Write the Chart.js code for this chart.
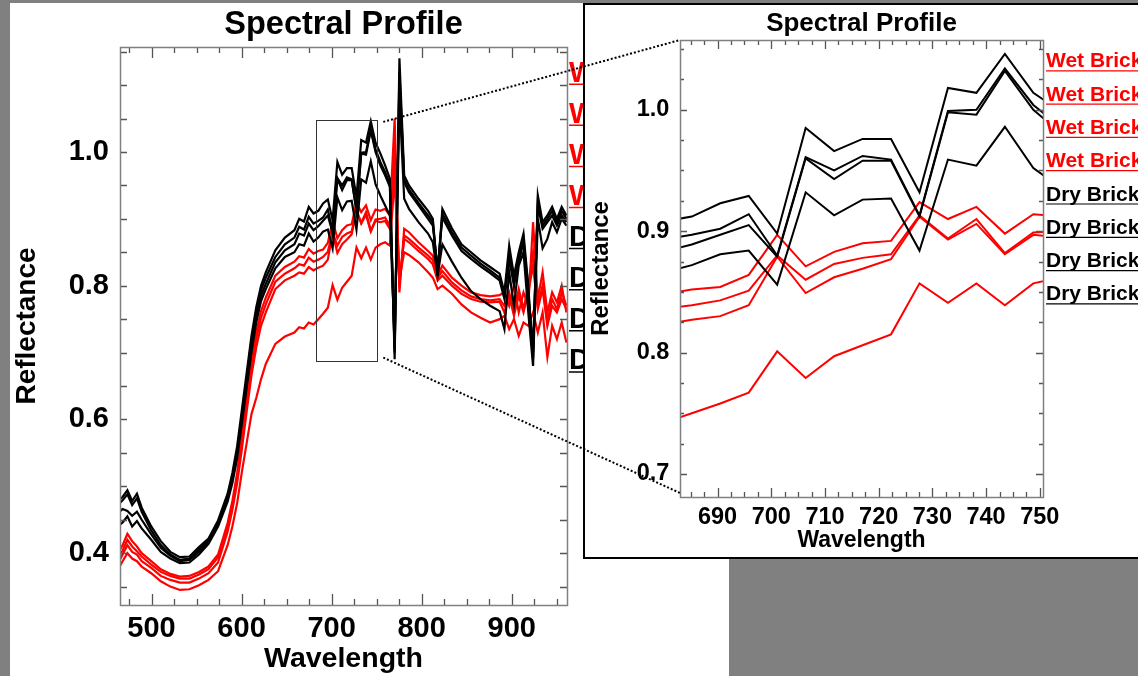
<!DOCTYPE html>
<html><head><meta charset="utf-8">
<script src="https://cdn.jsdelivr.net/npm/chart.js@4.4.1/dist/chart.umd.min.js"></script>
<style>
html,body{margin:0;padding:0;background:#808080;width:1138px;height:676px;overflow:hidden;position:relative}
#mainBg{position:absolute;left:10px;top:3px;width:719px;height:673px;background:#fff}
#mainCv{position:absolute;left:0;top:0}
#insetBox{position:absolute;left:583px;top:3px;width:560px;height:556px;box-sizing:border-box;border:2px solid #000;border-right:none;background:#fff;overflow:hidden}
#insetCv{position:absolute;left:0;top:0}
#overlay{position:absolute;left:0;top:0;pointer-events:none}
</style></head>
<body>
<div id="mainBg"></div>
<canvas id="mainCv" width="729" height="676"></canvas>
<div id="insetBox"><canvas id="insetCv" width="553" height="552"></canvas></div>
<canvas id="overlay" width="1138" height="676"></canvas>
<script>
const FONT = '"Liberation Sans", Arial, Helvetica, sans-serif';

// ---- data ----
const wavelengths = [462.6,467.9,473.2,478.5,483.8,489.1,499.7,510.3,520.9,531.5,
 542.1,552.7,563.3,573.9,584.5,589.8,595.1,600.4,605.7,611.0,
 616.3,621.6,626.9,637.5,648.1,658.7,664.0,669.3,674.6,679.9,
 685.2,690.5,695.8,701.1,706.4,711.7,717.0,722.3,727.6,732.9,
 738.2,743.5,748.8,754.1,759.4,764.7,770.0,775.3,780.6,785.9,
 796.5,807.1,812.4,817.7,823.0,833.6,844.2,854.8,865.4,876.0,
 886.6,891.9,897.2,902.5,907.8,913.1,918.4,923.7,929.0,934.3,
 939.6,944.9,950.2,955.5,960.8];

const wet1 = [0.400,0.412,0.429,0.418,0.410,0.400,0.388,0.376,0.369,0.365,
 0.366,0.372,0.380,0.398,0.445,0.478,0.520,0.575,0.632,0.688,
 0.730,0.762,0.782,0.815,0.828,0.836,0.844,0.842,0.855,0.848,
 0.852,0.854,0.864,0.897,0.871,0.883,0.890,0.892,0.924,0.910,
 0.920,0.898,0.914,0.912,0.915,0.905,1.050,0.790,0.885,0.880,
 0.865,0.852,0.845,0.815,0.830,0.812,0.800,0.790,0.786,0.784,
 0.786,0.790,0.770,0.800,0.760,0.790,0.770,0.895,0.780,0.820,
 0.760,0.790,0.775,0.800,0.760];
const wet2 = [0.392,0.404,0.420,0.410,0.403,0.395,0.383,0.372,0.366,0.362,
 0.362,0.368,0.376,0.394,0.440,0.472,0.513,0.566,0.622,0.677,
 0.720,0.752,0.772,0.806,0.818,0.826,0.832,0.830,0.842,0.836,
 0.839,0.843,0.851,0.880,0.860,0.873,0.878,0.881,0.913,0.894,
 0.910,0.882,0.899,0.900,0.902,0.890,1.010,0.800,0.875,0.870,
 0.857,0.845,0.838,0.812,0.822,0.805,0.793,0.784,0.780,0.778,
 0.780,0.770,0.790,0.760,0.795,0.765,0.800,0.850,0.770,0.800,
 0.745,0.780,0.765,0.790,0.770];
const wet3 = [0.384,0.398,0.412,0.402,0.398,0.388,0.378,0.366,0.360,0.356,
 0.356,0.362,0.370,0.386,0.432,0.465,0.505,0.556,0.612,0.666,
 0.708,0.740,0.760,0.795,0.808,0.815,0.820,0.818,0.828,0.823,
 0.827,0.830,0.839,0.879,0.849,0.862,0.869,0.877,0.912,0.893,
 0.906,0.881,0.897,0.895,0.897,0.885,0.990,0.805,0.870,0.865,
 0.852,0.840,0.832,0.808,0.815,0.800,0.788,0.780,0.776,0.775,
 0.776,0.760,0.785,0.755,0.785,0.760,0.790,0.830,0.765,0.795,
 0.740,0.770,0.760,0.780,0.765];
const wet4 = [0.375,0.388,0.400,0.392,0.388,0.380,0.370,0.358,0.350,0.345,
 0.346,0.352,0.360,0.373,0.412,0.440,0.475,0.522,0.565,0.608,
 0.632,0.660,0.683,0.713,0.724,0.730,0.738,0.736,0.745,0.742,
 0.750,0.758,0.767,0.801,0.779,0.797,0.806,0.815,0.857,0.841,
 0.857,0.839,0.857,0.862,0.865,0.860,0.960,0.810,0.850,0.846,
 0.835,0.820,0.812,0.795,0.800,0.788,0.772,0.760,0.752,0.745,
 0.750,0.755,0.735,0.750,0.725,0.745,0.740,0.760,0.730,0.760,
 0.693,0.740,0.720,0.745,0.715];
const dry1 = [0.478,0.484,0.494,0.478,0.489,0.468,0.440,0.418,0.402,0.394,
 0.395,0.409,0.422,0.449,0.489,0.520,0.560,0.615,0.670,0.725,
 0.768,0.800,0.820,0.853,0.872,0.883,0.900,0.896,0.918,0.908,
 0.912,0.923,0.929,0.898,0.985,0.966,0.976,0.976,0.932,1.018,
 1.014,1.046,1.014,0.998,0.980,0.960,0.690,1.140,0.965,0.950,
 0.930,0.912,0.900,0.815,0.915,0.886,0.862,0.850,0.838,0.828,
 0.818,0.790,0.860,0.815,0.850,0.878,0.800,0.690,0.935,0.895,
 0.905,0.918,0.900,0.918,0.905];
const dry2 = [0.472,0.479,0.488,0.472,0.482,0.462,0.434,0.412,0.398,0.390,
 0.392,0.405,0.420,0.446,0.485,0.515,0.553,0.607,0.662,0.717,
 0.760,0.793,0.812,0.843,0.862,0.872,0.888,0.884,0.903,0.893,
 0.897,0.902,0.914,0.880,0.961,0.950,0.962,0.959,0.913,0.999,
 1.000,1.034,1.004,0.985,0.970,0.952,0.700,1.120,0.958,0.944,
 0.924,0.905,0.895,0.820,0.908,0.880,0.857,0.845,0.833,0.823,
 0.812,0.785,0.845,0.805,0.840,0.870,0.790,0.700,0.925,0.890,
 0.900,0.912,0.895,0.912,0.900];
const dry3 = [0.460,0.466,0.463,0.456,0.462,0.450,0.428,0.408,0.396,0.388,
 0.390,0.402,0.417,0.443,0.481,0.510,0.548,0.600,0.655,0.708,
 0.752,0.785,0.803,0.835,0.853,0.862,0.878,0.875,0.893,0.883,
 0.889,0.897,0.905,0.879,0.960,0.943,0.958,0.958,0.912,0.998,
 0.996,1.032,1.000,0.980,0.965,0.948,0.705,1.110,0.955,0.940,
 0.920,0.900,0.890,0.825,0.902,0.875,0.852,0.840,0.829,0.819,
 0.808,0.780,0.840,0.800,0.835,0.865,0.785,0.705,0.920,0.885,
 0.895,0.905,0.890,0.905,0.895];
const dry4 = [0.440,0.446,0.455,0.440,0.448,0.437,0.420,0.402,0.392,0.385,
 0.386,0.398,0.414,0.440,0.477,0.505,0.542,0.594,0.648,0.700,
 0.745,0.777,0.795,0.826,0.843,0.850,0.862,0.860,0.878,0.866,
 0.872,0.881,0.884,0.856,0.932,0.913,0.926,0.927,0.884,0.959,
 0.954,0.986,0.952,0.935,0.920,0.905,0.720,1.080,0.930,0.915,
 0.895,0.878,0.865,0.815,0.862,0.836,0.812,0.792,0.780,0.770,
 0.762,0.735,0.820,0.770,0.830,0.850,0.760,0.680,0.900,0.856,
 0.870,0.895,0.880,0.900,0.890];

const seriesValues = [wet1, wet2, wet3, wet4, dry1, dry2, dry3, dry4];
const seriesLabels = ['Wet Brick','Wet Brick','Wet Brick','Wet Brick','Dry Brick','Dry Brick','Dry Brick','Dry Brick'];
const seriesColors = ['#ff0000','#ff0000','#ff0000','#ff0000','#000000','#000000','#000000','#000000'];
const chartTitle = 'Spectral Profile';

// tick labels
const mainXMajor = [500, 600, 700, 800, 900];
const mainYMajor = [0.4, 0.6, 0.8, 1.0];
const insetXMajor = [690, 700, 710, 720, 730, 740, 750];
const insetYMajor = [0.7, 0.8, 0.9, 1.0];
const mainXMinorStep = 25, mainYMinorStep = 0.05;
const insetXMinorStep = 2.5, insetYMinorStep = 0.025;

// axis ranges
const mainRange = {xMin: 465, xMax: 961.4, yMin: 0.3225, yMax: 1.157};
const insetRange = {xMin: 683, xMax: 750.6, yMin: 0.681, yMax: 1.0575};
const zoomBox = {xMin: 682.6, xMax: 750.7, yMin: 0.688, yMax: 1.048};

// ---- helpers ----
function makeTicks(min, max, step) {
  const out = [];
  for (let k = Math.ceil(min / step - 1e-9); k * step <= max + 1e-9; k++) out.push({value: +(k * step).toFixed(6)});
  return out;
}
function isMajor(v, arr) { return arr.some(m => Math.abs(m - v) < 1e-6); }

function buildDatasets(bw) {
  return seriesValues.map((vals, i) => ({
    label: seriesLabels[i],
    data: wavelengths.map((w, j) => ({x: w, y: vals[j]})),
    borderColor: seriesColors[i],
    backgroundColor: seriesColors[i],
    borderWidth: bw,
    pointRadius: 0,
    tension: 0,
    fill: false,
    order: seriesColors[i] === '#000000' ? 1 : 2
  }));
}

function framePlugin(cfg) {
  return {
    id: 'frame',
    afterDatasetsDraw(chart) {
      const {ctx, chartArea: a, scales: {x, y}} = chart;
      ctx.save();
      ctx.strokeStyle = cfg.tickColor; ctx.lineWidth = 1.3;
      ctx.beginPath();
      x.ticks.forEach(t => {
        const px = Math.round(x.getPixelForValue(t.value)) + 0.5;
        const L = isMajor(t.value, cfg.xMajor) ? cfg.xLong : cfg.xShort;
        ctx.moveTo(px, a.bottom); ctx.lineTo(px, a.bottom - L);
        ctx.moveTo(px, a.top); ctx.lineTo(px, a.top + L);
      });
      y.ticks.forEach(t => {
        const py = Math.round(y.getPixelForValue(t.value)) + 0.5;
        const L = isMajor(t.value, cfg.yMajor) ? cfg.yLong : cfg.yShort;
        ctx.moveTo(a.left, py); ctx.lineTo(a.left + L, py);
        ctx.moveTo(a.right, py); ctx.lineTo(a.right - L, py);
      });
      ctx.stroke();
      ctx.strokeStyle = cfg.axisColor; ctx.lineWidth = 1.5;
      ctx.strokeRect(Math.round(a.left) + 0.5, Math.round(a.top) + 0.5, Math.round(a.width), Math.round(a.height));
      if (cfg.box) {
        const x0 = x.getPixelForValue(cfg.box.xMin), x1 = x.getPixelForValue(cfg.box.xMax);
        const y0 = y.getPixelForValue(cfg.box.yMax), y1 = y.getPixelForValue(cfg.box.yMin);
        ctx.strokeStyle = '#333'; ctx.lineWidth = 1;
        ctx.strokeRect(Math.round(x0) + 0.5, Math.round(y0) + 0.5, Math.round(x1 - x0), Math.round(y1 - y0));
      }
      ctx.restore();
    }
  };
}

function titlePlugin(cfg) {
  return {
    id: 'areaTitle',
    afterDraw(chart) {
      const ctx = chart.ctx, a = chart.chartArea;
      ctx.save();
      ctx.font = 'bold ' + cfg.size + 'px ' + FONT;
      ctx.fillStyle = '#000'; ctx.textAlign = 'center'; ctx.textBaseline = 'alphabetic';
      ctx.fillText(chartTitle, (a.left + a.right) / 2, cfg.baseline);
      ctx.restore();
    }
  };
}

function legendPlugin(cfg) {
  return {
    id: 'textLegend',
    afterDraw(chart) {
      const ctx = chart.ctx, a = chart.chartArea;
      ctx.save();
      ctx.font = 'bold ' + cfg.size + 'px ' + FONT;
      ctx.textAlign = 'left'; ctx.textBaseline = 'alphabetic';
      chart.data.datasets.forEach((ds, i) => {
        const x = a.right + cfg.gap;
        const y = cfg.y0 + i * cfg.dy;
        ctx.fillStyle = ds.borderColor;
        ctx.fillText(ds.label, x, y);
        const w = ctx.measureText(ds.label).width;
        ctx.strokeStyle = ds.borderColor; ctx.lineWidth = cfg.lw;
        ctx.beginPath(); ctx.moveTo(x, y + cfg.ul); ctx.lineTo(x + w + 4, y + cfg.ul); ctx.stroke();
      });
      ctx.restore();
    }
  };
}

function font(size) { return {family: FONT, size: size, weight: 'bold'}; }

function makeChart(canvas, o) {
  return new Chart(canvas, {
    type: 'line',
    data: {datasets: buildDatasets(o.bw)},
    options: {
      responsive: false, animation: false, devicePixelRatio: 1,
      layout: {padding: o.layoutPadding},
      plugins: {
        legend: {display: false}, tooltip: {enabled: false}, title: {display: false}
      },
      scales: {
        x: {
          type: 'linear', position: 'bottom', min: o.range.xMin, max: o.range.xMax,
          afterBuildTicks: s => { s.ticks = makeTicks(s.min, s.max, o.xStep); },
          afterFit: s => { s.height = o.xHeight; },
          grid: {display: false, drawTicks: false}, border: {display: false},
          ticks: {autoSkip: false, maxRotation: 0, minRotation: 0, padding: o.xTickPad, color: '#000', font: font(o.tickSize),
                  callback: v => isMajor(v, o.xMajor) ? String(Math.round(v)) : ''},
          title: {display: true, text: 'Wavelength', color: '#000', font: font(o.axisTitleSize), padding: o.xTitlePad}
        },
        y: {
          type: 'linear', position: 'left', min: o.range.yMin, max: o.range.yMax,
          afterBuildTicks: s => { s.ticks = makeTicks(s.min, s.max, o.yStep); },
          afterFit: s => { s.width = o.yWidth; },
          grid: {display: false, drawTicks: false}, border: {display: false},
          ticks: {autoSkip: false, padding: o.yTickPad, color: '#000', font: font(o.tickSize),
                  callback: v => isMajor(v, o.yMajor) ? v.toFixed(1) : ''},
          title: {display: true, text: 'Reflectance', color: '#000', font: font(o.yTitleSize), padding: o.yTitlePad}
        }
      }
    },
    plugins: [framePlugin(o.frame), titlePlugin(o.title), legendPlugin(o.legend)]
  });
}

const mainChart = makeChart(document.getElementById('mainCv'), {
  bw: 2.2, range: mainRange, xStep: mainXMinorStep, yStep: mainYMinorStep,
  xMajor: mainXMajor, yMajor: mainYMajor,
  layoutPadding: {left: 10, right: 162, top: 47, bottom: 0},
  title: {size: 32.5, baseline: 34},
  xHeight: 71, yWidth: 110, tickSize: 29, xTickPad: 6.5, yTickPad: 11,
  axisTitleSize: 28.5, xTitlePad: {top: 0, bottom: 0},
  yTitleSize: 28, yTitlePad: {top: 0, bottom: 0},
  frame: {tickColor: '#555', axisColor: '#808080', xMajor: mainXMajor, yMajor: mainYMajor, xLong: 11, xShort: 6, yLong: 7, yShort: 7, box: zoomBox},
  legend: {size: 29, gap: 2, y0: 81.7, dy: 41.1, ul: 2.5, lw: 1.5}
});

const insetChart = makeChart(document.getElementById('insetCv'), {
  bw: 2, range: insetRange, xStep: insetXMinorStep, yStep: insetYMinorStep,
  xMajor: insetXMajor, yMajor: insetYMajor,
  layoutPadding: {left: 0, right: 95, top: 35, bottom: 0},
  title: {size: 26, baseline: 26},
  xHeight: 60, yWidth: 95, tickSize: 23.5, xTickPad: 6.4, yTickPad: 10.7,
  axisTitleSize: 23, xTitlePad: {top: 0, bottom: 2.2},
  yTitleSize: 24, yTitlePad: {top: 1.6, bottom: 0},
  frame: {tickColor: '#555', axisColor: '#808080', xMajor: insetXMajor, yMajor: insetYMajor, xLong: 9, xShort: 5, yLong: 7, yShort: 4},
  legend: {size: 21, gap: 3, y0: 62.3, dy: 33.3, ul: 3.5, lw: 1.2}
});

function drawConnectors() {
  const cv = document.getElementById('overlay');
  const ctx = cv.getContext('2d');
  ctx.clearRect(0, 0, cv.width, cv.height);
  const mx = mainChart.scales.x, my = mainChart.scales.y;
  const rx = mx.getPixelForValue(zoomBox.xMax);
  const rTop = my.getPixelForValue(zoomBox.yMax), rBot = my.getPixelForValue(zoomBox.yMin);
  const insetOrigin = {x: 585, y: 5};
  const ia = insetChart.chartArea;
  ctx.save();
  ctx.strokeStyle = '#000'; ctx.lineWidth = 2; ctx.setLineDash([2, 2]);
  ctx.beginPath();
  ctx.moveTo(rx + 6, rTop + 2); ctx.lineTo(insetOrigin.x + ia.left, insetOrigin.y + ia.top);
  ctx.moveTo(rx + 6, rBot - 3); ctx.lineTo(insetOrigin.x + ia.left, insetOrigin.y + ia.bottom - 4);
  ctx.stroke();
  ctx.restore();
}
drawConnectors();
requestAnimationFrame(drawConnectors);
</script>
</body></html>
